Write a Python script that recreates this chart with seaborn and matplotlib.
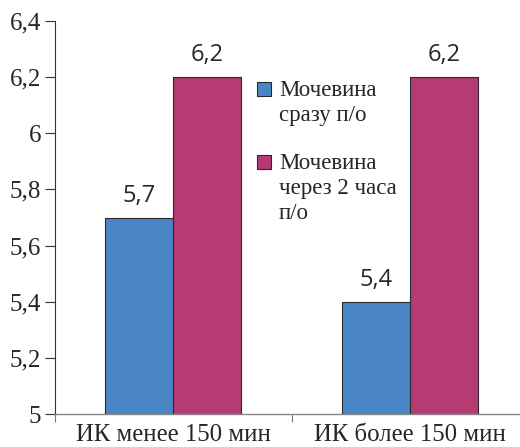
import matplotlib
matplotlib.use("Agg")
import matplotlib.pyplot as plt
from matplotlib.patches import Rectangle
import seaborn as sns
import pandas as pd

categories = ["ИК менее 150 мин", "ИК более 150 мин"]
series_names = ["Мочевина сразу п/о", "Мочевина через 2 часа п/о"]
legend_lines = [["Мочевина", "сразу п/о"], ["Мочевина", "через 2 часа", "п/о"]]
values_now = [5.7, 5.4]
values_2h = [6.2, 6.2]
y_ticks = [5.0, 5.2, 5.4, 5.6, 5.8, 6.0, 6.2, 6.4]
y_tick_labels = ["5", "5,2", "5,4", "5,6", "5,8", "6", "6,2", "6,4"]

colors = ["#4A86C5", "#B63A73"]

df = pd.DataFrame({
    "cat": categories * 2,
    "series": [series_names[0]] * 2 + [series_names[1]] * 2,
    "value": values_now + values_2h,
})

sns.set_style("white")
plt.rcParams["font.family"] = ["Liberation Serif", "DejaVu Serif"]

W, H = 520, 447
fig = plt.figure(figsize=(W / 100, H / 100), dpi=100)
ax = fig.add_axes([55 / W, 33 / H, 473 / W, 393 / H])

sns.barplot(data=df, x="cat", y="value", hue="series", order=categories,
            hue_order=series_names, palette=colors, saturation=1, width=0.576,
            edgecolor="#2a2a2a", linewidth=0.8, ax=ax, legend=False)

ax.set_ylim(5.0, 6.4)
ax.set_xlim(-0.5, 1.5)
ax.set_yticks(y_ticks)
ax.set_yticklabels(y_tick_labels, fontsize=18)
ax.tick_params(axis="y", direction="out", length=7, width=0.8, color="#333333",
               left=True, pad=3)
ax.tick_params(axis="x", length=0, labelsize=17.8, pad=7)
ax.set_xticks([-0.5, 0.5, 1.5], minor=True)
ax.tick_params(axis="x", which="minor", direction="out", length=6, width=0.8,
               color="#777777", bottom=True)
ax.set_xlabel("")
ax.set_ylabel("")

for s in ["top", "right"]:
    ax.spines[s].set_visible(False)
ax.spines["left"].set_color("#333333")
ax.spines["left"].set_linewidth(0.8)
ax.spines["bottom"].set_color("#888888")
ax.spines["bottom"].set_linewidth(1.0)

for cont in ax.containers:
    ax.bar_label(cont, labels=[f"{v:.1f}".replace(".", ",") for v in cont.datavalues],
                 padding=7, fontsize=17, family=["Open Sans", "DejaVu Sans"])

# legend: square swatch beside the first line of each multi-line label
entry_tops = [82, 155]
for color, lines, top in zip(colors, legend_lines, entry_tops):
    fig.patches.append(Rectangle((257 / W, 1 - (top + 14) / H), 14 / W, 14 / H,
                                 transform=fig.transFigure, facecolor=color,
                                 edgecolor="#2a2a2a", linewidth=0.8))
    for i, line in enumerate(lines):
        baseline = top + 14 + i * 25
        fig.text(279 / W, 1 - baseline / H, line, fontsize=16.5,
                 ha="left", va="baseline")

fig.savefig("out.png", dpi=100)
